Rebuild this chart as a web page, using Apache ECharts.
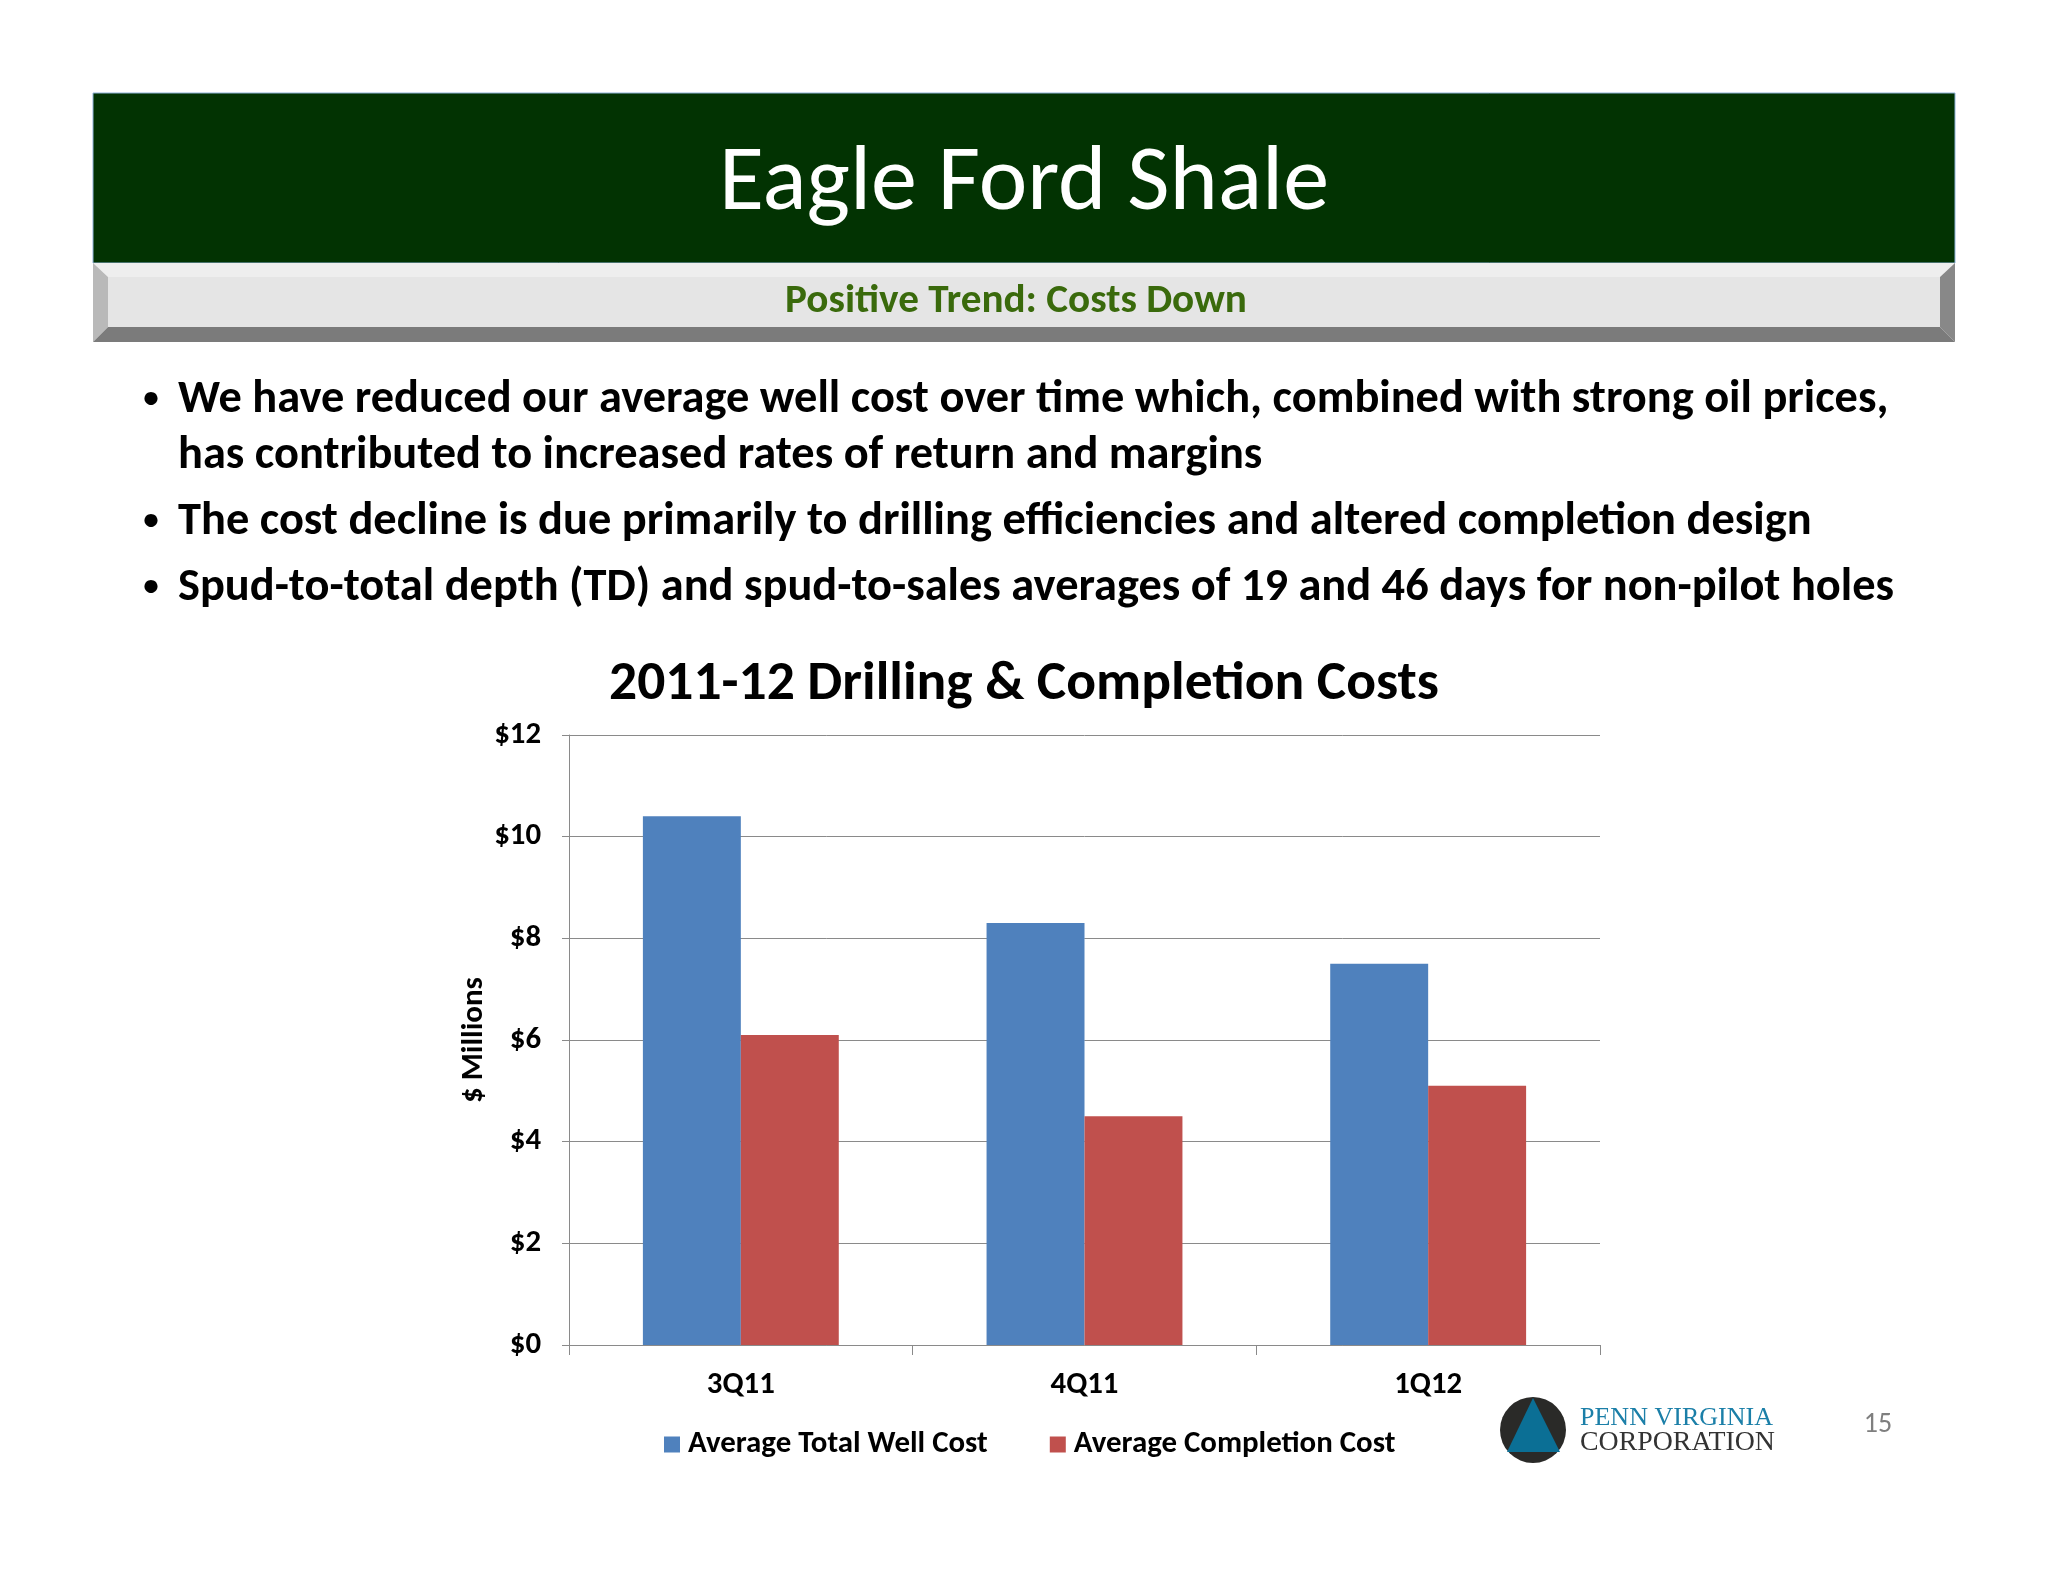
<!DOCTYPE html>
<html>
<head>
<meta charset="utf-8">
<script src="https://cdn.jsdelivr.net/npm/echarts@6/dist/echarts.min.js"></script>
<style>
html,body{margin:0;padding:0;background:#ffffff;}
#main{width:2048px;height:1582px;}
</style>
</head>
<body>
<div id="main"></div>
<script>
// ---------- data ----------
const categories = ['3Q11', '4Q11', '1Q12'];
const totalWellCost = [10.4, 8.3, 7.5];
const completionCost = [6.1, 4.5, 5.1];
const seriesNames = ['Average Total Well Cost', 'Average Completion Cost'];
const yTickValues = [0, 2, 4, 6, 8, 10, 12];
const pageTitle = 'Eagle Ford Shale';
const pageSubtitle = 'Positive Trend: Costs Down';
const chartTitle = '2011-12 Drilling & Completion Costs';
const yAxisName = '$ Millions';
const bulletLines = [
  ['We have reduced our average well cost over time which, combined with strong oil prices,', true],
  ['has contributed to increased rates of return and margins', false],
  ['The cost decline is due primarily to drilling efficiencies and altered completion design', true],
  ['Spud-to-total depth (TD) and spud-to-sales averages of 19 and 46 days for non-pilot holes', true]
];

// ---------- layout helpers ----------
const FONT = "Carlito, Lato, 'Open Sans', sans-serif";
const cv = document.createElement('canvas').getContext('2d');
function fit(text, weight, family, target) {
  cv.font = weight + ' 100px ' + family;
  return 100 * target / cv.measureText(text).width;
}
const titleSize = fit(pageTitle, 'normal', FONT, 610);
const subSize = fit(pageSubtitle, 'bold', FONT, 462);
const bulletSize = fit(bulletLines[0][0], 'bold', FONT, 1711);
const chartTitleSize = fit(chartTitle, 'bold', FONT, 830);
const axisSize = fit('3Q11', 'bold', FONT, 68);
const legendSize = fit(seriesNames[0], 'bold', FONT, 300);
const yNameSize = fit(yAxisName, 'bold', FONT, 126);

const bulletY = [400, 456, 522, 588];
const graphics = [];
// header green box
graphics.push({type:'rect', shape:{x:93, y:93, width:1862, height:170}, style:{fill:'#023302', stroke:'#8fb3d9', lineWidth:1}});
// bevel bar
graphics.push({type:'rect', shape:{x:108, y:277, width:1832, height:50}, style:{fill:'#e5e5e5'}});
graphics.push({type:'polygon', shape:{points:[[93,263],[1955,263],[1940,277],[108,277]]}, style:{fill:'#eeeeee'}});
graphics.push({type:'polygon', shape:{points:[[93,263],[108,277],[108,327],[93,342]]}, style:{fill:'#b9b9b9'}});
graphics.push({type:'polygon', shape:{points:[[1955,263],[1955,342],[1940,327],[1940,277]]}, style:{fill:'#888888'}});
graphics.push({type:'polygon', shape:{points:[[93,342],[108,327],[1940,327],[1955,342]]}, style:{fill:'#7b7b7b'}});
graphics.push({type:'text', x:1024, y:186, style:{text:pageTitle, fontSize:titleSize, fontFamily:FONT, fill:'#ffffff', textAlign:'center', textVerticalAlign:'middle'}});
graphics.push({type:'text', x:1016, y:302, style:{text:pageSubtitle, fontSize:subSize, fontWeight:'bold', fontFamily:FONT, fill:'#3a6a0c', textAlign:'center', textVerticalAlign:'middle'}});
// bullets
bulletLines.forEach(function (b, i) {
  if (b[1]) graphics.push({type:'text', x:151, y:bulletY[i], style:{text:'\u2022', fontSize:bulletSize * 0.8, fontFamily:FONT, fill:'#000', textAlign:'center', textVerticalAlign:'middle'}});
  graphics.push({type:'text', x:178, y:bulletY[i], style:{text:b[0], fontSize:bulletSize, fontWeight:'bold', fontFamily:FONT, fill:'#000', textAlign:'left', textVerticalAlign:'middle'}});
});
// chart title
graphics.push({type:'text', x:1024, y:685, style:{text:chartTitle, fontSize:chartTitleSize, fontWeight:'bold', fontFamily:FONT, fill:'#000', textAlign:'center', textVerticalAlign:'middle'}});
// logo
graphics.push({type:'circle', shape:{cx:1533, cy:1430, r:33}, style:{fill:'#2a2a28'}});
graphics.push({type:'polygon', shape:{points:[[1533,1398],[1560,1452],[1507,1452]]}, style:{fill:'#0b6f95'}});
graphics.push({type:'text', x:1580, y:1418, style:{text:'PENN VIRGINIA', fontSize:fit('PENN VIRGINIA','normal',"'Liberation Serif', serif",193), fontFamily:"'Liberation Serif', serif", fill:'#1b7fa8', textAlign:'left', textVerticalAlign:'middle'}});
graphics.push({type:'text', x:1580, y:1443, style:{text:'CORPORATION', fontSize:fit('CORPORATION','normal',"'Liberation Serif', serif",195), fontFamily:"'Liberation Serif', serif", fill:'#333333', textAlign:'left', textVerticalAlign:'middle'}});
graphics.push({type:'text', x:1878, y:1425, style:{text:'15', fontSize:28, fontFamily:FONT, fill:'#7f7f7f', textAlign:'center', textVerticalAlign:'middle'}});

const chart = echarts.init(document.getElementById('main'), null, {renderer:'canvas'});
const axisColor = '#8a8a8a';
chart.setOption({
  backgroundColor:'#ffffff',
  animation:false,
  graphic:{elements:graphics},
  grid:{left:569, top:735, width:1031, height:610, containLabel:false},
  legend:{
    data:seriesNames, left:659, top:1424, icon:'rect', itemWidth:16, itemHeight:16, itemGap:62,
    textStyle:{fontSize:legendSize, fontWeight:'bold', fontFamily:FONT, color:'#000', padding:[0,0,0,3]}
  },
  xAxis:{
    type:'category', data:categories,
    axisLine:{lineStyle:{color:axisColor, width:1}},
    axisTick:{show:true, alignWithLabel:false, length:10, lineStyle:{color:axisColor}},
    axisLabel:{fontSize:axisSize, fontWeight:'bold', fontFamily:FONT, color:'#000', margin:25}
  },
  yAxis:{
    type:'value', min:yTickValues[0], max:yTickValues[yTickValues.length-1], interval:yTickValues[1]-yTickValues[0],
    name:yAxisName, nameLocation:'middle', nameGap:95, nameRotate:90, nameMoveOverlap:false,
    nameTextStyle:{fontSize:yNameSize, fontWeight:'bold', fontFamily:FONT, color:'#000', verticalAlign:'middle'},
    axisLine:{show:true, lineStyle:{color:axisColor, width:1}},
    axisTick:{show:true, length:7, lineStyle:{color:axisColor}},
    splitLine:{show:true, lineStyle:{color:axisColor, width:1}},
    axisLabel:{fontSize:axisSize, fontWeight:'bold', fontFamily:FONT, color:'#000', margin:28, formatter:function(v){return '$' + v;}}
  },
  series:[
    {name:seriesNames[0], type:'bar', data:totalWellCost, itemStyle:{color:'#4f81bd'}, barGap:'0%', barCategoryGap:'43%'},
    {name:seriesNames[1], type:'bar', data:completionCost, itemStyle:{color:'#c0504d'}, barGap:'0%', barCategoryGap:'43%'}
  ]
});
</script>
</body>
</html>
